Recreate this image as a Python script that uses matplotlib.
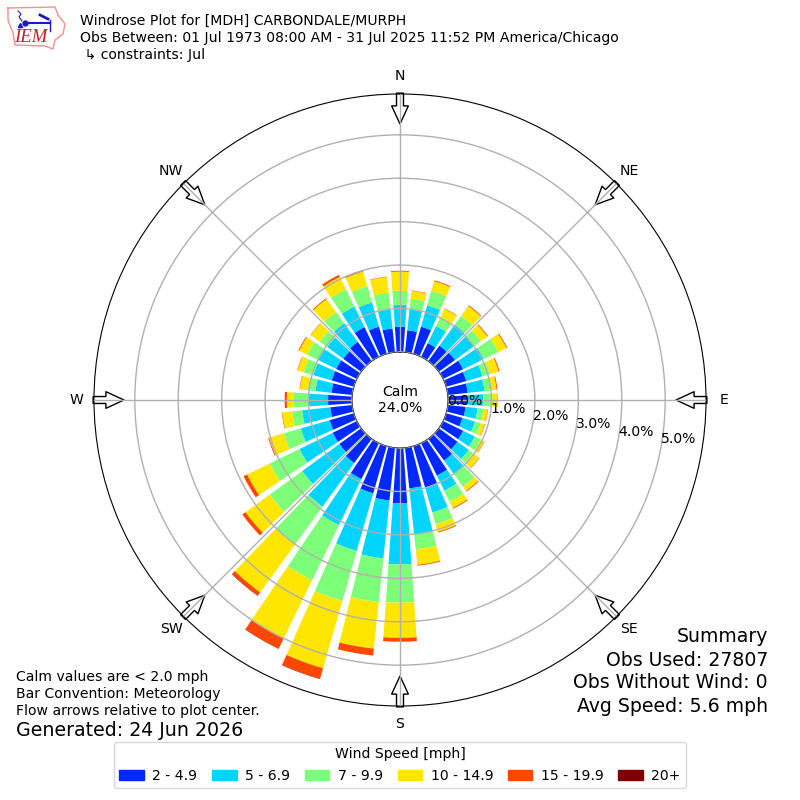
import numpy as np
import matplotlib
matplotlib.use('Agg')
import matplotlib.pyplot as plt
from matplotlib.patches import Patch

# percent of observations per 10 degree direction, one list per speed bin
directions = np.arange(0, 360, 10)
speed_2_5 = [.58, .51, .65, .35, .44, .46, .51, .48, .46, .44, .41, .39,
             .51, .53, .62, .83, .99, .94, 1.27, 1.22, 1.13, .92, .69, .62,
             .62, .58, .51, .55, .48, .53, .53, .51, .55, .76, .65, .55]
speed_5_7 = [.51, .48, .51, .44, .60, .53, .53, .39, .39, .37, .28, .30,
             .30, .32, .39, .39, .60, 1.06, 1.41, 1.34, 1.38, 1.18, 1.24, 1.06,
             .85, .69, .65, .44, .37, .44, .46, .46, .53, .53, .58, .44]
speed_7_10 = [.32, .25, .35, .23, .25, .21, .37, .18, .16, .18, .14, .14,
              .16, .12, .35, .28, .28, .35, .88, 1.01, 1.20, 1.41, 1.08, .92,
              .76, .41, .23, .35, .18, .23, .28, .21, .32, .44, .39, .39]
speed_10_15 = [.44, .18, .23, .21, .28, .18, .21, .21, .12, .14, .09, .09,
               .08, .18, .12, .16, .18, .36, .81, 1.08, 1.61, 1.50, 1.36, .69,
               .58, .35, .23, .16, .18, .15, .21, .25, .37, .32, .35, .36]
speed_15_20 = [.02, .01, .02, .01, .02, .02, .02, .02, .02, .01, .01, .01,
               .01, .01, .02, .02, .02, .02, .09, .16, .25, .25, .09, .09,
               .09, .02, .01, .05, .01, .01, .02, .01, .02, .05, .02, .01]
speed_20 = [0, 0, 0, 0, 0, 0, 0, 0, 0, 0, 0, 0,
            0, 0, 0, 0, 0, 0, 0, 0, .01, .01, .01, 0,
            0, 0, 0, 0, 0, 0, 0, 0, 0, 0, 0, 0]

speed_bins = [speed_2_5, speed_5_7, speed_7_10, speed_10_15, speed_15_20, speed_20]
speed_labels = ['2 - 4.9', '5 - 6.9', '7 - 9.9', '10 - 14.9', '15 - 19.9', '20+']
colors = ['#0028ff', '#00d4ff', '#7dff7a', '#ffe600', '#ff4700', '#7f0000']

compass = ['N', 'NE', 'E', 'SE', 'S', 'SW', 'W', 'NW']
compass_deg = [0, 45, 90, 135, 180, 225, 270, 315]
rings = [0, 1, 2, 3, 4, 5]

fig = plt.figure(figsize=(8, 8), dpi=100)
ax = fig.add_axes([94 / 800, 94 / 800, 612 / 800, 612 / 800], projection='polar')
ax.set_theta_zero_location('N')
ax.set_theta_direction(-1)

theta = np.radians(directions)
bottom = np.zeros(len(directions))
for values, color in zip(speed_bins, colors):
    ax.bar(theta, values, width=np.radians(8), bottom=bottom, color=color, linewidth=0, zorder=1)
    bottom += np.array(values)

ax.set_rorigin(-1.106)
ax.set_ylim(0, 5.94)
ax.set_rticks(rings)
ax.set_yticklabels(['%.1f%%' % r for r in rings], fontsize=10.1)
ax.set_rlabel_position(100)
ax.set_xticks(np.radians(compass_deg))
ax.set_xticklabels([])
ax.set_axisbelow(False)
ax.grid(True, color='#b0b0b0', linewidth=1)

for deg, name in zip(compass_deg, compass):
    ax.text(np.radians(deg), 6.35, name, ha='center', va='center', fontsize=10.1, clip_on=False)
    ax.annotate('', xy=(np.radians(deg), 5.25), xytext=(np.radians(deg), 5.96),
                arrowprops=dict(facecolor='white', edgecolor='black', width=5, headwidth=12,
                                headlength=13, shrink=0, linewidth=1),
                annotation_clip=False, zorder=2)

ax.text(0.5, 0.5, 'Calm\n24.0%', transform=ax.transAxes, ha='center', va='center', fontsize=10.1,
        linespacing=1.25)

# header
fig.text(80 / 800, 1 - 21 / 800, 'Windrose Plot for [MDH] CARBONDALE/MURPH', fontsize=10.1, va='center')
fig.text(80 / 800, 1 - 38 / 800, 'Obs Between: 01 Jul 1973 08:00 AM - 31 Jul 2025 11:52 PM America/Chicago',
         fontsize=10.1, va='center')
fig.text(80 / 800, 1 - 55 / 800, ' ↳ constraints: Jul', fontsize=10.1, va='center')

# notes, bottom left
fig.text(16 / 800, 1 - 677 / 800, 'Calm values are < 2.0 mph', fontsize=10.1, va='center')
fig.text(16 / 800, 1 - 694 / 800, 'Bar Convention: Meteorology', fontsize=10.1, va='center')
fig.text(16 / 800, 1 - 711 / 800, 'Flow arrows relative to plot center.', fontsize=10.1, va='center')
fig.text(16 / 800, 1 - 730 / 800, 'Generated: 24 Jun 2026', fontsize=13.7, va='center')

# summary, bottom right
fig.text(768 / 800, 1 - 637 / 800, 'Summary', fontsize=13.6, ha='right', va='center')
fig.text(768 / 800, 1 - 660 / 800, 'Obs Used: 27807', fontsize=13.6, ha='right', va='center')
fig.text(768 / 800, 1 - 683 / 800, 'Obs Without Wind: 0', fontsize=13.6, ha='right', va='center')
fig.text(768 / 800, 1 - 706 / 800, 'Avg Speed: 5.6 mph', fontsize=13.6, ha='right', va='center')

handles = [Patch(color=c, label=l) for c, l in zip(colors, speed_labels)]
fig.legend(handles=handles, title='Wind Speed [mph]', ncol=6, loc='center',
           bbox_to_anchor=(0.5, 1 - 765 / 800), fontsize=10.1, title_fontsize=10.1,
           handlelength=1.75, handletextpad=0.6, columnspacing=1.05)

# IEM logo, pixel coordinates of the top left corner
logo = fig.add_axes([0, 1 - 60 / 800, 80 / 800, 60 / 800])
logo.set_xlim(0, 80)
logo.set_ylim(60, 0)
logo.axis('off')
outline_x = [8, 55, 58, 65, 63, 55, 53, 45, 15, 13, 8, 8]
outline_y = [8, 7, 15, 24, 34, 40, 49, 46, 45, 33, 20, 8]
logo.plot(outline_x, outline_y, color='#f09090', lw=1)
logo.plot([25, 50], [23, 23], color='#1818c8', lw=1.5)
logo.plot([40, 48], [15, 19], color='#1818c8', lw=2)
logo.plot([50, 50], [20, 31], color='#1818c8', lw=1)
logo.plot([18, 21, 19, 22], [11, 14, 17, 21], color='#1818c8', lw=0.8)
logo.plot([25], [23], 'o', color='#1818c8', ms=3.5)
logo.plot([20], [25], '^', color='#1818c8', ms=3)
logo.text(30.5, 38, 'IEM', color='#c81e1e', fontsize=13.5, style='italic', family='Liberation Serif',
          ha='center', va='center')

fig.savefig('out.png', dpi=100)
